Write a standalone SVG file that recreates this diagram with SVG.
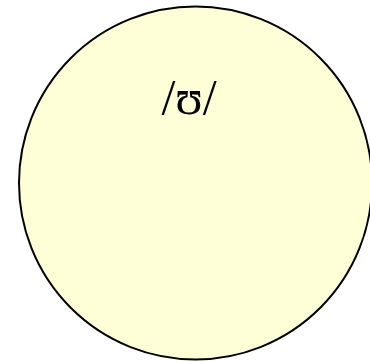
<svg xmlns="http://www.w3.org/2000/svg" width="370" height="361" viewBox="0 0 370 361">
<style>
.node{fill:#ffffd7;stroke:#000;stroke-width:2}
.lbl{font-family:"Liberation Serif","DejaVu Serif",serif;font-size:50px;fill:#000;text-anchor:middle}
</style>
<rect width="370" height="361" fill="#fff"/>
<g id="node-u">
<circle class="node" cx="195.5" cy="183" r="176.5"/>
<text class="lbl" x="189" y="114">/ʊ/</text>
</g>
<g id="connectors"></g>
</svg>
